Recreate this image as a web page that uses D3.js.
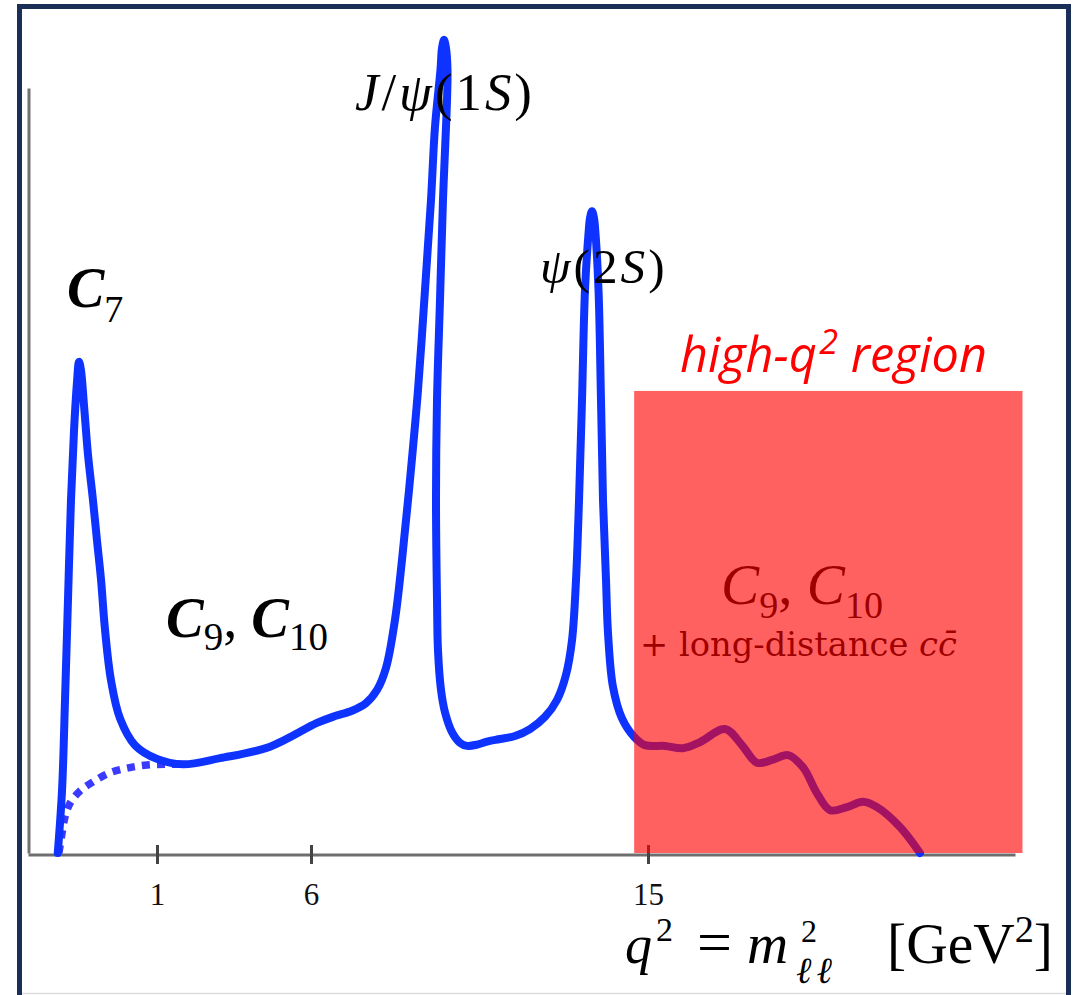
<!DOCTYPE html>
<html>
<head>
<meta charset="utf-8">
<script src="https://cdn.jsdelivr.net/npm/d3@7"></script>
<style>
  html, body { margin: 0; padding: 0; background: #fff; }
  svg { display: block; }
</style>
</head>
<body>
<svg id="chart" width="1074" height="995"></svg>
<script>
// Labelled q² ticks
const tickValues = [1, 6, 15];
const tickLabels = ["1", "6", "15"];

// Schematic differential rate (arbitrary units) versus q² [GeV²]
const spectrumQ2 = [
  0.00, 0.043, 0.073, 0.103, 0.133, 0.164, 0.194, 0.214, 0.234, 0.264,
  0.305, 0.355, 0.395, 0.436, 0.476, 0.536, 0.627, 0.778, 1.000, 1.844,
  3.045, 4.669, 6.160, 6.641, 7.095, 7.469, 7.762, 8.003, 8.243, 8.430,
  8.644, 8.857, 9.044, 9.205, 9.311, 9.458, 9.498, 9.552, 9.605, 9.645,
  9.632, 9.605, 9.525, 9.445, 9.365, 9.338, 9.365, 9.391, 9.472, 9.578,
  9.765, 9.979, 10.166, 10.460, 10.727, 11.047, 11.448, 11.848, 12.249, 12.569,
  12.810, 12.970, 13.077, 13.157, 13.237, 13.317, 13.411, 13.451, 13.504, 13.557,
  13.597, 13.678, 13.744, 13.798, 13.878, 13.931, 14.065, 14.305, 14.626, 14.919,
  15.453, 15.934, 16.388, 17.056, 17.510, 17.910, 18.337, 18.738, 19.139, 19.513,
  19.860, 20.314, 20.741, 21.115, 21.729, 22.263
];
const spectrumRate = [
  0.0, 8.2, 20.0, 33.1, 46.1, 55.3, 61.6, 64.2, 63.1, 58.6,
  52.0, 46.1, 40.9, 35.7, 29.2, 22.6, 17.6, 14.1, 12.3, 11.6,
  12.4, 13.9, 17.0, 17.9, 18.6, 19.6, 21.3, 24.2, 30.5, 38.3,
  48.8, 60.5, 73.6, 85.4, 94.9, 102.4, 105.2, 106.3, 105.2, 102.4,
  98.4, 94.9, 85.4, 72.3, 59.2, 46.1, 33.1, 26.5, 21.3, 18.4,
  15.8, 14.4, 14.0, 14.2, 14.6, 14.9, 15.3, 16.2, 17.8, 20.0,
  23.3, 27.8, 35.7, 46.1, 59.2, 73.6, 81.0, 83.0, 83.9, 83.0,
  81.0, 73.6, 59.2, 46.1, 35.7, 28.8, 21.7, 17.6, 15.2, 14.1,
  14.0, 13.7, 14.5, 16.2, 14.1, 11.8, 12.2, 12.8, 11.2, 7.8,
  5.6, 6.0, 6.7, 6.0, 3.4, 0.0
];

// Low-q² behaviour without the photon pole (dotted)
const dottedQ2 = [0.012, 0.043, 0.073, 0.123, 0.224, 0.355, 0.526, 0.698, 0.899, 1.325, 1.844];
const dottedRate = [0.0, 2.6, 4.7, 6.5, 8.1, 9.3, 10.5, 11.1, 11.5, 11.6, 11.6];

// High-q² window
const regionQ2 = [14.63, 25.0];
const regionRate = [0, 60.4];

const svg = d3.select("#chart");

// Schematic, piecewise-linear q² axis
const x = d3.scaleLinear().domain([-0.3, 1, 6, 24.8]).range([28, 157, 311, 1015]);
const y = d3.scaleLinear().domain([0, 100]).range([853, 88]);

const serif = "'Liberation Serif', 'Times New Roman', serif";

// Slide frame
svg.append("path")
  .attr("d", "M19.5,1000 L19.5,6.5 L1068.5,6.5 L1068.5,1000")
  .attr("fill", "none")
  .attr("stroke", "#1b2e57")
  .attr("stroke-width", 5);
svg.append("line")
  .attr("x1", 22).attr("x2", 1066).attr("y1", 993.5).attr("y2", 993.5)
  .attr("stroke", "#dddddd").attr("stroke-width", 1.5);

// Axes
const yAxis = svg.append("g")
  .attr("transform", "translate(28.5,0)")
  .call(d3.axisLeft(y).ticks(0).tickSizeOuter(0));
yAxis.select(".domain").attr("stroke", "#727272").attr("stroke-width", 3);

const xAxis = svg.append("g")
  .attr("transform", "translate(0,854.5)")
  .call(d3.axisBottom(x).tickValues(tickValues).tickFormat((d, i) => tickLabels[i]).tickSizeOuter(0));
xAxis.select(".domain").attr("stroke", "#6e6e6e").attr("stroke-width", 3);
xAxis.selectAll(".tick line")
  .attr("y1", -9.5).attr("y2", 9.5)
  .attr("stroke", "#444").attr("stroke-width", 3);
xAxis.selectAll(".tick text")
  .attr("y", 50).attr("dy", 0)
  .attr("font-family", serif).attr("font-size", 31).attr("fill", "#111");

// Curves
const line = d3.line()
  .x(d => x(d[0]))
  .y(d => y(d[1]))
  .curve(d3.curveCatmullRom.alpha(0.5));

svg.append("path")
  .datum(dottedQ2.map((q, i) => [q, dottedRate[i]]))
  .attr("d", line)
  .attr("fill", "none")
  .attr("stroke", "#3b3bff")
  .attr("stroke-width", 7.5)
  .attr("stroke-dasharray", "8 7");

svg.append("path")
  .datum(spectrumQ2.map((q, i) => [q, spectrumRate[i]]))
  .attr("d", line)
  .attr("fill", "none")
  .attr("stroke", "#0f33ff")
  .attr("stroke-width", 8)
  .attr("stroke-linejoin", "round")
  .attr("stroke-linecap", "round");

// Text with italic pieces and sub/superscripts; optionally scaled to a width
function mathLabel(xPos, yPos, parts, opts) {
  const t = svg.append("text")
    .attr("x", xPos).attr("y", yPos)
    .attr("font-family", opts.family || serif)
    .attr("font-size", opts.size)
    .attr("fill", opts.fill || "#000");
  if (opts.spacing) t.attr("letter-spacing", opts.spacing);
  if (opts.style) t.attr("font-style", opts.style);
  parts.forEach(p => {
    const s = t.append("tspan").text(p.t);
    if (p.italic) s.attr("font-style", "italic");
    if (p.bold) s.attr("font-weight", "bold");
    if (p.size) s.attr("font-size", p.size);
    if (p.dy) s.attr("dy", p.dy);
    if (p.dx) s.attr("dx", p.dx);
  });
  if (opts.width) {
    const k = opts.width / t.node().getBBox().width;
    t.attr("font-size", opts.size * k);
    t.selectAll("tspan").each(function () {
      const s = d3.select(this);
      ["font-size", "dy", "dx"].forEach(a => {
        const v = s.attr(a);
        if (v !== null) s.attr(a, +v * k);
      });
    });
  }
  return t;
}

// Contribution labels
mathLabel(67, 307, [
  { t: "C", italic: true, bold: true },
  { t: "7", size: 38, dy: 15, dx: 0 }
], { size: 56 });

mathLabel(166, 637, [
  { t: "C", italic: true, bold: true },
  { t: "9", size: 38, dy: 13, dx: 0 },
  { t: ", ", dy: -13 },
  { t: "C", italic: true, bold: true },
  { t: "10", size: 38, dy: 13, dx: 0 }
], { size: 55, width: 162 });

mathLabel(355, 110, [
  { t: "J", italic: true },
  { t: "/" },
  { t: "ψ", italic: true },
  { t: "(1" },
  { t: "S", italic: true },
  { t: ")" }
], { size: 48, spacing: 3, width: 182 });

mathLabel(540, 283, [
  { t: "ψ", italic: true },
  { t: "(2" },
  { t: "S", italic: true },
  { t: ")" }
], { size: 48, spacing: 3, width: 128 });

// Labels inside the high-q² window (tinted by the overlay)
mathLabel(721, 604, [
  { t: "C", italic: true },
  { t: "9", size: 32, dy: 12, dx: 0 },
  { t: ", ", dy: -12 },
  { t: "C", italic: true },
  { t: "10", size: 32, dy: 12, dx: 0 }
], { size: 48, width: 162 });

mathLabel(640, 656, [
  { t: "+ long-distance " },
  { t: "c", italic: true },
  { t: "c\u0304", italic: true }
], { size: 32, family: "'DejaVu Serif', serif", width: 317 });

// High-q² window overlay
svg.append("rect")
  .attr("x", x(regionQ2[0]))
  .attr("y", y(regionRate[1]))
  .attr("width", x(regionQ2[1]) - x(regionQ2[0]))
  .attr("height", y(regionRate[0]) - y(regionRate[1]))
  .attr("fill", "#ff0000")
  .attr("fill-opacity", 0.62);

mathLabel(680, 372, [
  { t: "high-" },
  { t: "q", italic: true },
  { t: "2", size: 26, dy: -14, dx: 2 },
  { t: " region", dy: 14 }
], { size: 37, family: "'Open Sans', 'Noto Sans', sans-serif", fill: "#ff0000", style: "italic", width: 307 });

// Axis title
mathLabel(625, 963, [{ t: "q", italic: true }], { size: 54 });
mathLabel(656, 941, [{ t: "2" }], { size: 34 });
mathLabel(697, 963, [{ t: "=" }], { size: 62 });
mathLabel(747, 963, [{ t: "m", italic: true }], { size: 57 });
mathLabel(801, 942, [{ t: "2" }], { size: 32 });
mathLabel(796, 983, [{ t: "ℓℓ", italic: true }], { size: 37, spacing: 5 });
mathLabel(887, 963, [
  { t: "[GeV" },
  { t: "2", size: 36, dy: -20 },
  { t: "]", dy: 20 }
], { size: 54, width: 166 });
</script>
</body>
</html>
